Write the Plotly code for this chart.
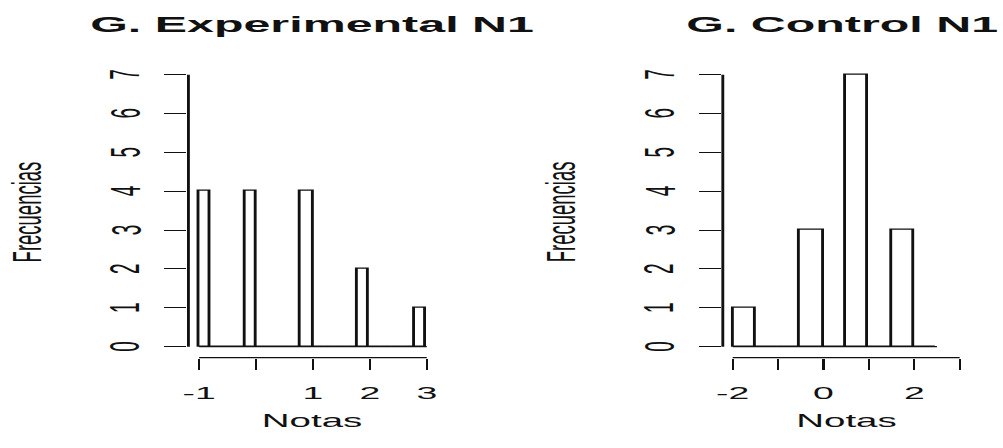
import plotly.graph_objects as go

# ---- data -------------------------------------------------------------
# Experimental group: histogram with bins of width 0.2 between -1 and 3
exp_breaks = [-1.0, -0.8, -0.6, -0.4, -0.2, 0.0, 0.2, 0.4, 0.6, 0.8, 1.0,
              1.2, 1.4, 1.6, 1.8, 2.0, 2.2, 2.4, 2.6, 2.8, 3.0]
exp_counts = [4, 0, 0, 0, 4, 0, 0, 0, 0, 4, 0, 0, 0, 0, 2, 0, 0, 0, 0, 1]
exp_xticks = [-1, 0, 1, 2, 3]
exp_xlabels = ["-1", "", "1", "2", "3"]

# Control group: histogram with bins of width 0.5 between -2 and 2.5
ctl_breaks = [-2.0, -1.5, -1.0, -0.5, 0.0, 0.5, 1.0, 1.5, 2.0, 2.5]
ctl_counts = [1, 0, 0, 3, 0, 7, 0, 3, 0]
ctl_xticks = [-2, -1, 0, 1, 2, 3]
ctl_xlabels = ["-2", "", "0", "", "2", ""]

y_ticks = [0, 1, 2, 3, 4, 5, 6, 7]
y_labels = ["0", "1", "2", "3", "4", "5", "6", "7"]
titles = ["G. Experimental N1", "G. Control N1"]
x_title = "Notas"
y_title = "Frecuencias"

# ---- layout constants ---------------------------------------------------
W, H = 456, 448          # drawing size before the horizontal stretch
STRETCH = 1003 / W       # page is widened to 1003 px
FONT = "Liberation Sans, Arial, Helvetica, sans-serif"
INK = "#111111"
LW = 1.3

panels = [
    dict(breaks=exp_breaks, counts=exp_counts, ticks=exp_xticks,
         labels=exp_xlabels, xdom=[83.4 / W, 196.9 / W], xr=[-1.188, 3.16],
         title=titles[0], title_x=139.9 / W, ytitle_x=8.5 / W),
    dict(breaks=ctl_breaks, counts=ctl_counts, ticks=ctl_xticks,
         labels=ctl_xlabels, xdom=[328.5 / W, 441.3 / W], xr=[-2.218, 3.2],
         title=titles[1], title_x=383.8 / W, ytitle_x=253.5 / W),
]
ydom = [1 - 357.6 / H, 1 - 63.8 / H]
yr = [-0.28, 7.28]

fig = go.Figure()
shapes, annotations = [], []

for i, p in enumerate(panels, start=1):
    xa = "x" if i == 1 else f"x{i}"
    ya = "y" if i == 1 else f"y{i}"
    b = p["breaks"]
    centers = [(b[k] + b[k + 1]) / 2 for k in range(len(p["counts"]))]
    widths = [b[k + 1] - b[k] for k in range(len(p["counts"]))]

    # empty bins of the histogram show up as a line along zero
    fig.add_trace(go.Scatter(
        x=[b[0], b[-1]], y=[0, 0], mode="lines",
        line=dict(color=INK, width=LW), hoverinfo="skip",
        showlegend=False, xaxis=xa, yaxis=ya))
    fig.add_trace(go.Bar(
        x=centers, y=p["counts"], width=widths,
        marker=dict(color="white", line=dict(color=INK, width=LW)),
        showlegend=False, xaxis=xa, yaxis=ya))

    axis_common = dict(showgrid=False, zeroline=False, showline=False,
                       ticks="outside", tickcolor=INK, tickwidth=LW)
    fig.update_layout(**{
        ("xaxis" if i == 1 else f"xaxis{i}"): dict(
            domain=p["xdom"], range=p["xr"], anchor=ya,
            tickvals=p["ticks"], ticktext=p["labels"], ticklen=11,
            ticklabelstandoff=9,
            tickfont=dict(family=FONT, size=17, color=INK),
            **axis_common),
        ("yaxis" if i == 1 else f"yaxis{i}"): dict(
            domain=ydom, range=yr, anchor=xa,
            tickvals=y_ticks, showticklabels=False, ticklen=10,
            **axis_common),
    })

    # y tick labels, turned to run along the axis
    for v, lab in zip(y_ticks, y_labels):
        annotations.append(dict(text=lab, xref=f"{xa} domain", yref=ya,
                                x=0, y=v, xshift=-28.6, xanchor="center",
                                yanchor="middle", textangle=-90,
                                showarrow=False,
                                font=dict(family=FONT, size=19, color=INK)))

    # axis lines spanning the first to last tick only
    shapes.append(dict(type="line", xref=xa, yref=f"{ya} domain",
                       x0=p["ticks"][0], x1=p["ticks"][-1], y0=0, y1=0,
                       line=dict(color=INK, width=LW)))
    shapes.append(dict(type="line", xref=f"{xa} domain", yref=ya,
                       x0=0, x1=0, y0=y_ticks[0], y1=y_ticks[-1],
                       line=dict(color=INK, width=LW)))

    xmid = (p["xdom"][0] + p["xdom"][1]) / 2
    annotations.append(dict(text=p["title"], xref="paper", yref="paper",
                            x=p["title_x"], y=1 - 24 / H, xanchor="center",
                            yanchor="middle", showarrow=False,
                            font=dict(family=FONT, size=22, color=INK,
                                      weight=700)))
    annotations.append(dict(text=x_title, xref="paper", yref="paper",
                            x=xmid, y=1 - 421 / H, xanchor="center",
                            yanchor="middle", showarrow=False,
                            font=dict(family=FONT, size=17.5, color=INK)))
    annotations.append(dict(text=y_title, xref="paper", yref="paper",
                            x=p["ytitle_x"], y=1 - 212 / H,
                            xanchor="center", yanchor="middle",
                            textangle=-90, showarrow=False,
                            font=dict(family=FONT, size=18.5, color=INK)))

fig.update_layout(
    width=W, height=H, margin=dict(l=0, r=0, t=0, b=0),
    paper_bgcolor="white", plot_bgcolor="white",
    shapes=shapes, annotations=annotations, bargap=0,
)

# widen the whole drawing horizontally to the 1003 px page
post = (
    "document.body.style.margin='0';"
    "document.body.style.overflow='hidden';"
    "var gd=document.getElementById('{plot_id}');"
    "gd.style.transformOrigin='0 0';"
    f"gd.style.transform='scaleX({STRETCH:.5f})';"
)
fig.write_html("out.html", post_script=post,
               config=dict(displayModeBar=False, responsive=False))
